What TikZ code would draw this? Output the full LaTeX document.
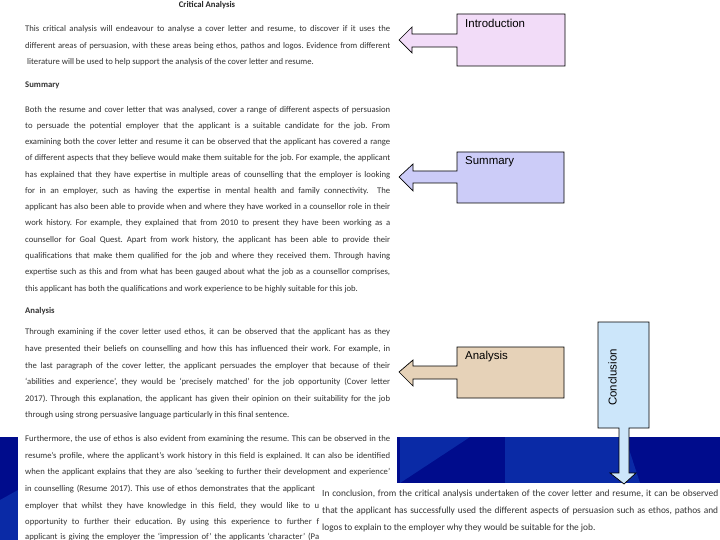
\documentclass[tikz,border=0pt]{standalone}
\usepackage{fontspec}
\setmainfont{Carlito}
\newfontfamily\arialf{Liberation Sans}
\definecolor{navy}{HTML}{000C8C}
\definecolor{navyl}{HTML}{0A2AA6}
\definecolor{introc}{HTML}{F2DCF8}
\definecolor{summc}{HTML}{CCCCF8}
\definecolor{anac}{HTML}{E6D2B8}
\definecolor{concc}{HTML}{CCE6FA}
\frenchspacing
\newcommand\dl[3]{\node[doc] (#1) at (25,#2+3) {\makebox[365bp][s]{#3}};}
\newcommand\pl[3]{\node[doc] (#1) at (25,#2+3) {#3};}
\begin{document}
\begin{tikzpicture}[x=1bp,y=-1bp,
  doc/.style={anchor=base west,inner sep=0,font=\fontsize{8.7}{9}\selectfont,text=black!80},
  head/.style={anchor=base,inner sep=0,font=\fontsize{8.7}{9}\selectfont\bfseries,text=black!85},
  callout/.style={draw=black,line width=0.7pt},
  lab/.style={anchor=north west,inner sep=0,font=\arialf\fontsize{11.5}{13}\selectfont}]
\useasboundingbox (0,0) rectangle (720,540);
\fill[white] (0,0) rectangle (720,540);
% blue band
\fill[navy] (0,437) rectangle (720,540);
\fill[navyl] (0,540) -- (0,500) -- (18,490) -- (18,540) -- cycle;
\fill[navyl] (400,483) -- (470,437) -- (400,437) -- cycle;
\fill[navyl] (505,437) rectangle (610,483);
\fill[navyl] (560,483) -- (605,465) -- (640,483) -- cycle;
\fill[navyl] (600,437) -- (625,437) -- (640,483) -- (615,483) -- cycle;
% document page
\fill[white] (18,0) rectangle (397,540);
\fill[white] (320,483) rectangle (720,540);
\node[head] (title) at (207,8) {Critical Analysis};
\dl{i1}{29}{This critical analysis will endeavour to analyse a cover letter and resume, to discover if it uses the}
\dl{i2}{46}{different areas of persuasion, with these areas being ethos, pathos and logos. Evidence from different}
\pl{i3}{62}{\hspace{2bp}literature will be used to help support the analysis of the cover letter and resume.}
\pl{hs}{85}{\bfseries Summary}
\dl{s1}{110}{Both the resume and cover letter that was analysed, cover a range of different aspects of persuasion}
\dl{s2}{126}{to persuade the potential employer that the applicant is a suitable candidate for the job. From}
\dl{s3}{142}{examining both the cover letter and resume it can be observed that the applicant has covered a range}
\dl{s4}{158}{of different aspects that they believe would make them suitable for the job. For example, the applicant}
\dl{s5}{175}{has explained that they have expertise in multiple areas of counselling that the employer is looking}
\dl{s6}{191}{for in an employer, such as having the expertise in mental health and family connectivity.\ \ The}
\dl{s7}{207}{applicant has also been able to provide when and where they have worked in a counsellor role in their}
\dl{s8}{223}{work history. For example, they explained that from 2010 to present they have been working as a}
\dl{s9}{240}{counsellor for Goal Quest. Apart from work history, the applicant has been able to provide their}
\dl{s10}{256}{qualifications that make them qualified for the job and where they received them. Through having}
\dl{s11}{272}{expertise such as this and from what has been gauged about what the job as a counsellor comprises,}
\pl{s12}{288}{this applicant has both the qualifications and work experience to be highly suitable for this job.}
\pl{ha}{310}{\bfseries Analysis}
\dl{a1}{331}{Through examining if the cover letter used ethos, it can be observed that the applicant has as they}
\dl{a2}{348}{have presented their beliefs on counselling and how this has influenced their work. For example, in}
\dl{a3}{365}{the last paragraph of the cover letter, the applicant persuades the employer that because of their}
\dl{a4}{381}{`abilities and experience', they would be `precisely matched' for the job opportunity (Cover letter}
\dl{a5}{398}{2017). Through this explanation, the applicant has given their opinion on their suitability for the job}
\pl{a6}{414}{through using strong persuasive language particularly in this final sentence.}
\dl{a7}{438}{Furthermore, the use of ethos is also evident from examining the resume. This can be observed in the}
\dl{a8}{455}{resume's profile, where the applicant's work history in this field is explained. It can also be identified}
\dl{a9}{471}{when the applicant explains that they are also `seeking to further their development and experience'}
\node[doc] (a10) at (25,491) {\makebox[290bp][s]{in counselling (Resume 2017). This use of ethos demonstrates that the applicant}};
\node[doc] (a11) at (25,508) {\makebox[294bp][s]{employer that whilst they have knowledge in this field, they would like to u}};
\node[doc] (a12) at (25,524) {\makebox[294bp][s]{opportunity to further their education. By using this experience to further f}};
\node[doc] (a13) at (25,539) {\makebox[294bp][s]{applicant is giving the employer the `impression of' the applicants `character' (Pa}};
% conclusion text
\node[doc,font=\fontsize{9.4}{10}\selectfont] (c1) at (322,496) {\makebox[396bp][s]{In conclusion, from the critical analysis undertaken of the cover letter and resume, it can be observed}};
\node[doc,font=\fontsize{9.4}{10}\selectfont] (c2) at (322,513) {\makebox[396bp][s]{that the applicant has successfully used the different aspects of persuasion such as ethos, pathos and}};
\node[doc,font=\fontsize{9.4}{10}\selectfont] (c3) at (322,530) {logos to explain to the employer why they would be suitable for the job.};
% callouts
\draw[callout,fill=introc] (457,14) -- (565,14) -- (565,66) -- (457,66) -- (457,47) -- (412,47) -- (412,53) -- (399,40) -- (412,27) -- (412,34) -- (457,34) -- cycle;
\node[lab] (intro) at (465,19) {Introduction};
\draw[callout,fill=summc] (457,152) -- (564,152) -- (564,203) -- (457,203) -- (457,183) -- (413,183) -- (413,191) -- (399,177) -- (413,164) -- (413,171) -- (457,171) -- cycle;
\node[lab] (summ) at (465,156) {Summary};
\draw[callout,fill=anac] (457,347) -- (564,347) -- (564,398) -- (457,398) -- (457,379) -- (413,379) -- (413,386) -- (399,372) -- (413,360) -- (413,366) -- (457,366) -- cycle;
\node[lab] (ana) at (465,351) {Analysis};
\draw[callout,fill=concc] (598,322) -- (649,322) -- (649,428) -- (629,428) -- (629,473) -- (636,473) -- (624,484) -- (610,473) -- (619,473) -- (619,428) -- (598,428) -- cycle;
\node[lab,rotate=90,anchor=south west] (conc) at (617,406) {Conclusion};
\end{tikzpicture}
\end{document}
